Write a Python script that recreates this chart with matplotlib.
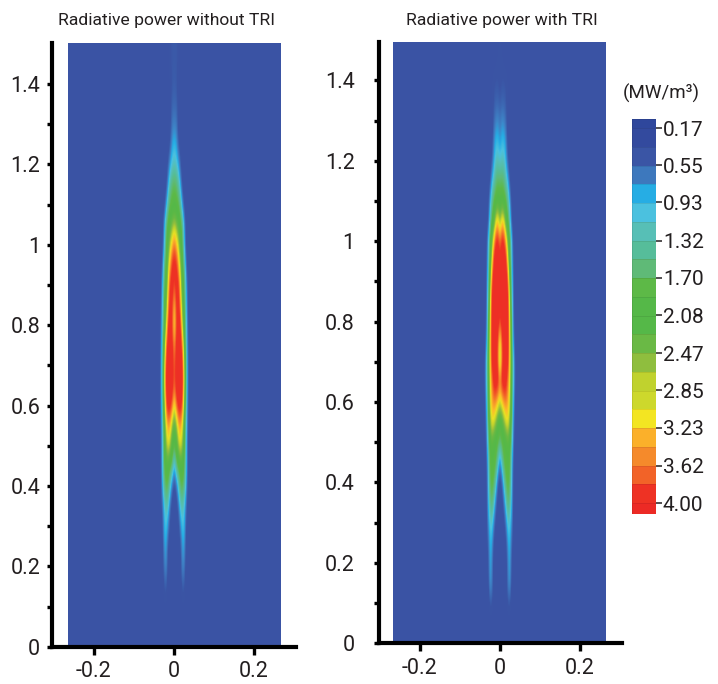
import numpy as np
import matplotlib
matplotlib.use("Agg")
import matplotlib.pyplot as plt
from matplotlib.colors import LinearSegmentedColormap, ListedColormap
from matplotlib.patches import Rectangle

plt.rcParams['font.family'] = ['Roboto', 'Liberation Sans', 'DejaVu Sans']

W, H = 718, 684
TEXT = '#231f20'
BG = 0.17

titles = ["Radiative power without TRI", "Radiative power with TRI"]
x_ticks = [-0.2, 0, 0.2]
x_tick_labels = ["-0.2", "0", "0.2"]
y_major = [0, 0.2, 0.4, 0.6, 0.8, 1, 1.2, 1.4]
y_major_labels = ["0", "0.2", "0.4", "0.6", "0.8", "1", "1.2", "1.4"]
y_minor = [0.1, 0.3, 0.5, 0.7, 0.9, 1.1, 1.3]

cbar_unit = "(MW/m\u00b3)"
cbar_values = [0.17, 0.55, 0.93, 1.32, 1.70, 2.08, 2.47, 2.85, 3.23, 3.62, 4.00]
cbar_labels = ["0.17", "0.55", "0.93", "1.32", "1.70", "2.08", "2.47", "2.85", "3.23", "3.62", "4.00"]
cbar_colors = ['#2f479c', '#334a9e', '#3a55a5', '#3d78bd', '#26ade4', '#4bc1df', '#57bfb6',
               '#56bd9a', '#5fba77', '#5db947', '#55b848', '#55b848', '#6ab945', '#8fbe3e',
               '#c0d22e', '#cdd82c', '#f3e522', '#fbb02a', '#f58a2b', '#f26328', '#ee3224', '#ec2a25']

y_rows = [0.00, 0.05, 0.10, 0.15, 0.20, 0.25, 0.30, 0.35, 0.40, 0.45, 0.50, 0.55, 0.60, 0.65, 0.70, 0.75,
          0.80, 0.85, 0.90, 0.95, 1.00, 1.05, 1.10, 1.15, 1.20, 1.25, 1.30, 1.35, 1.40, 1.45, 1.50]
x_step = 0.005

power_without_tri = [
    [.17, .17, .17, .17, .17, .17, .17, .17, .17],
    [.17, .17, .17, .17, .17, .17, .17, .17, .17],
    [.17, .17, .17, .17, .22, .22, .17, .17, .17],
    [.17, .17, .17, .17, .45, .40, .17, .17, .17],
    [.17, .17, .17, .20, .80, .65, .17, .17, .17],
    [.17, .17, .17, .30, .90, .85, .20, .17, .17],
    [.17, .17, .25, .70, 1.10, 1.00, .30, .17, .17],
    [.17, .20, .50, 1.20, 1.40, 1.10, .50, .17, .17],
    [.20, .50, 1.20, 1.80, 1.90, 1.60, .85, .17, .17],
    [.90, 1.70, 1.90, 2.10, 2.10, 1.90, 1.00, .25, .17],
    [1.95, 2.10, 2.70, 3.00, 2.70, 2.00, 1.00, .25, .17],
    [2.20, 2.60, 3.20, 3.40, 3.00, 2.20, 1.10, .30, .17],
    [3.00, 3.60, 3.95, 4.00, 3.70, 2.50, 1.30, .35, .17],
    [3.60, 3.95, 4.00, 4.00, 3.95, 2.90, 1.40, .40, .17],
    [3.60, 3.95, 4.00, 4.00, 3.90, 2.80, 1.40, .40, .17],
    [3.40, 3.90, 4.00, 4.00, 3.60, 2.40, 1.30, .35, .17],
    [3.00, 3.70, 4.00, 3.90, 2.90, 2.00, 1.20, .30, .17],
    [3.20, 3.80, 3.95, 3.50, 2.50, 1.90, 1.00, .25, .17],
    [3.70, 3.95, 3.90, 3.20, 2.20, 1.80, .90, .20, .17],
    [3.95, 3.90, 3.40, 2.80, 2.00, 1.60, .50, .17, .17],
    [3.60, 3.30, 2.90, 2.30, 1.90, 1.00, .25, .17, .17],
    [2.80, 2.60, 2.30, 2.00, 1.75, .85, .20, .17, .17],
    [2.00, 1.95, 1.90, 1.60, .85, .25, .17, .17, .17],
    [1.85, 1.80, 1.50, .95, .30, .17, .17, .17, .17],
    [1.30, 1.20, .95, .50, .17, .17, .17, .17, .17],
    [1.00, .90, .45, .20, .17, .17, .17, .17, .17],
    [.70, .65, .30, .17, .17, .17, .17, .17, .17],
    [.50, .50, .30, .17, .17, .17, .17, .17, .17],
    [.45, .40, .30, .20, .17, .17, .17, .17, .17],
    [.40, .40, .35, .20, .17, .17, .17, .17, .17],
    [.40, .40, .35, .20, .17, .17, .17, .17, .17],
]

power_with_tri = [
    [.17, .17, .17, .17, .17, .17, .17, .17, .17],
    [.17, .17, .17, .17, .17, .17, .17, .17, .17],
    [.17, .17, .17, .17, .40, .40, .17, .17, .17],
    [.17, .17, .17, .17, .70, .90, .20, .17, .17],
    [.17, .17, .17, .17, .75, .95, .30, .17, .17],
    [.17, .17, .17, .30, .90, 1.00, .45, .17, .17],
    [.17, .17, .25, .70, 1.25, 1.15, .70, .17, .17],
    [.17, .20, .60, 1.30, 1.80, 1.50, .85, .17, .17],
    [.20, .45, 1.30, 1.85, 1.95, 1.80, .90, .20, .17],
    [.60, 1.40, 1.90, 2.00, 2.00, 1.90, 1.00, .25, .17],
    [1.80, 1.90, 2.00, 2.10, 2.30, 2.10, 1.30, .40, .17],
    [2.00, 2.20, 2.60, 3.00, 3.10, 2.60, 1.60, .50, .17],
    [2.90, 3.20, 3.50, 3.50, 3.30, 2.90, 1.70, .70, .17],
    [3.60, 3.95, 4.00, 3.95, 3.50, 3.00, 1.80, .90, .20],
    [2.60, 3.60, 4.00, 4.00, 3.90, 3.10, 1.90, .90, .20],
    [2.90, 3.70, 4.00, 4.00, 3.95, 3.10, 1.70, .50, .17],
    [3.70, 4.00, 4.00, 4.00, 3.95, 3.00, 1.50, .40, .17],
    [4.00, 4.00, 4.00, 4.00, 3.90, 2.80, 1.30, .35, .17],
    [4.00, 4.00, 4.00, 4.00, 3.70, 2.40, 1.20, .30, .17],
    [3.90, 4.00, 4.00, 3.95, 3.00, 2.00, 1.00, .25, .17],
    [3.60, 3.90, 3.90, 3.30, 2.50, 1.90, .90, .20, .17],
    [2.60, 3.20, 3.00, 2.20, 1.95, 1.20, .30, .17, .17],
    [2.00, 2.10, 2.00, 1.90, 1.50, .90, .20, .17, .17],
    [1.80, 1.80, 1.70, 1.30, 1.00, .30, .17, .17, .17],
    [1.20, 1.30, 1.25, .95, .40, .17, .17, .17, .17],
    [.80, 1.00, 1.00, .75, .25, .17, .17, .17, .17],
    [.60, .75, .70, .50, .20, .17, .17, .17, .17],
    [.40, .45, .45, .40, .25, .17, .17, .17, .17],
    [.30, .38, .38, .35, .25, .17, .17, .17, .17],
    [.30, .28, .22, .17, .17, .17, .17, .17, .17],
    [.28, .25, .17, .17, .17, .17, .17, .17, .17],
]

field_anchor_values = [0.17, 0.36, 0.55, 0.74, 0.93, 1.12, 1.32, 1.51, 1.70, 1.89, 2.08, 2.27, 2.47, 2.66, 2.85, 3.04, 3.23, 3.42, 3.62, 3.81, 4.00]
field_anchor_colors = ['#3a53a4', '#3a55a5', '#3d6cb6', '#3d86c8', '#26ade4', '#4bc1df', '#57bfb6', '#56bd9a',
                       '#5fba77', '#5db947', '#55b848', '#5ab846', '#6ab945', '#8fbe3e', '#c0d22e', '#e8e024',
                       '#fbc028', '#f7952b', '#f26328', '#ee3224', '#ed2f26']
vmin, vmax = field_anchor_values[0], field_anchor_values[-1]
cmap = LinearSegmentedColormap.from_list(
    'rad', [((v - vmin) / (vmax - vmin), c) for v, c in zip(field_anchor_values, field_anchor_colors)], N=512)


def axes_px(left, top, right, bottom):
    return fig.add_axes([left / W, 1 - bottom / H, (right - left) / W, (bottom - top) / H])


def full_field(table):
    half = np.array(table, dtype=float)
    n_out = 54
    pad = np.full((half.shape[0], n_out - half.shape[1] + 1), BG)
    right = np.hstack([half, pad])
    return np.hstack([right[:, :0:-1], right])


fig = plt.figure(figsize=(W / 100, H / 100), dpi=100)

panels = [
    dict(box=(52, 43, 296, 646.7), zero=173.7, table=power_without_tri, img=(67.7, 280.0), pad=5, title_x=167),
    dict(box=(379, 42, 622, 643.3), zero=500.0, table=power_with_tri, img=(393.0, 606.0), pad=14, title_x=502),
]
PX_PER_X = 400.5
PX_PER_Y = 402.0

for p, title in zip(panels, titles):
    l, t, r, b = p['box']
    ax = axes_px(l, t, r, b)
    top = (b - t) / PX_PER_Y
    field = full_field(p['table'])
    half_cols = (field.shape[1] - 1) / 2
    im = ax.imshow(field, origin='lower', aspect='auto', cmap=cmap, vmin=vmin, vmax=vmax,
                   extent=[-(half_cols + .5) * x_step, (half_cols + .5) * x_step,
                           y_rows[0] - 0.025, y_rows[-1] + 0.025],
                   interpolation='bicubic', interpolation_stage='data')
    x0, x1 = (p['img'][0] - p['zero']) / PX_PER_X, (p['img'][1] - p['zero']) / PX_PER_X
    im.set_clip_path(Rectangle((x0, 0), x1 - x0, top, transform=ax.transData))
    ax.set_xlim((l - p['zero']) / PX_PER_X, (r - p['zero']) / PX_PER_X)
    ax.set_ylim(0, top)
    for s in ('top', 'right'):
        ax.spines[s].set_visible(False)
    for s in ('left', 'bottom'):
        ax.spines[s].set_linewidth(3.0)
        ax.spines[s].set_color('black')
    ax.set_xticks(x_ticks)
    ax.set_xticklabels(x_tick_labels)
    ax.set_yticks(y_major)
    ax.set_yticklabels(y_major_labels)
    ax.set_yticks(y_minor, minor=True)
    ax.tick_params(axis='x', length=5.5, width=2.4, color='black', labelsize=15.5, labelcolor=TEXT, pad=5)
    ax.tick_params(axis='y', which='major', length=3.5, width=2.4, color='black', labelsize=15.5,
                   labelcolor=TEXT, pad=p['pad'])
    ax.tick_params(axis='y', which='minor', length=3.5, width=2.4, color='black')
    fig.text(p['title_x'] / W, 1 - 21 / H, title, ha='center', va='center', fontsize=12.6, color=TEXT)

# colour bar: px 119..514, 0.17 at px 128, 4.00 at px 503
cax = axes_px(632, 119, 656, 514)
per_px = (cbar_values[-1] - cbar_values[0]) / (503 - 128)
top_val = cbar_values[0] - 9 * per_px
bot_val = cbar_values[-1] + 11 * per_px
band_step = (cbar_values[-1] - cbar_values[0]) / 20
edges = [top_val] + [cbar_values[0] + k * band_step for k in range(21)] + [bot_val]
cax.pcolormesh([0, 1], edges, np.arange(len(cbar_colors)).reshape(-1, 1),
               cmap=ListedColormap(cbar_colors), shading='flat',
               edgecolors=(0, 0, 0, 0.08), linewidth=0.5)
cax.set_ylim(bot_val, top_val)
cax.set_xlim(0, 1)
cax.set_xticks([])
cax.yaxis.tick_right()
cax.set_yticks(cbar_values)
cax.set_yticklabels(cbar_labels)
cax.tick_params(axis='y', length=4.5, width=1.1, color=TEXT, labelsize=15, labelcolor=TEXT, pad=0.5)
for s in cax.spines.values():
    s.set_visible(False)
fig.text(661 / W, 1 - 93 / H, cbar_unit, ha='center', va='center', fontsize=13.5, color=TEXT)

fig.savefig('out.png', dpi=100)
